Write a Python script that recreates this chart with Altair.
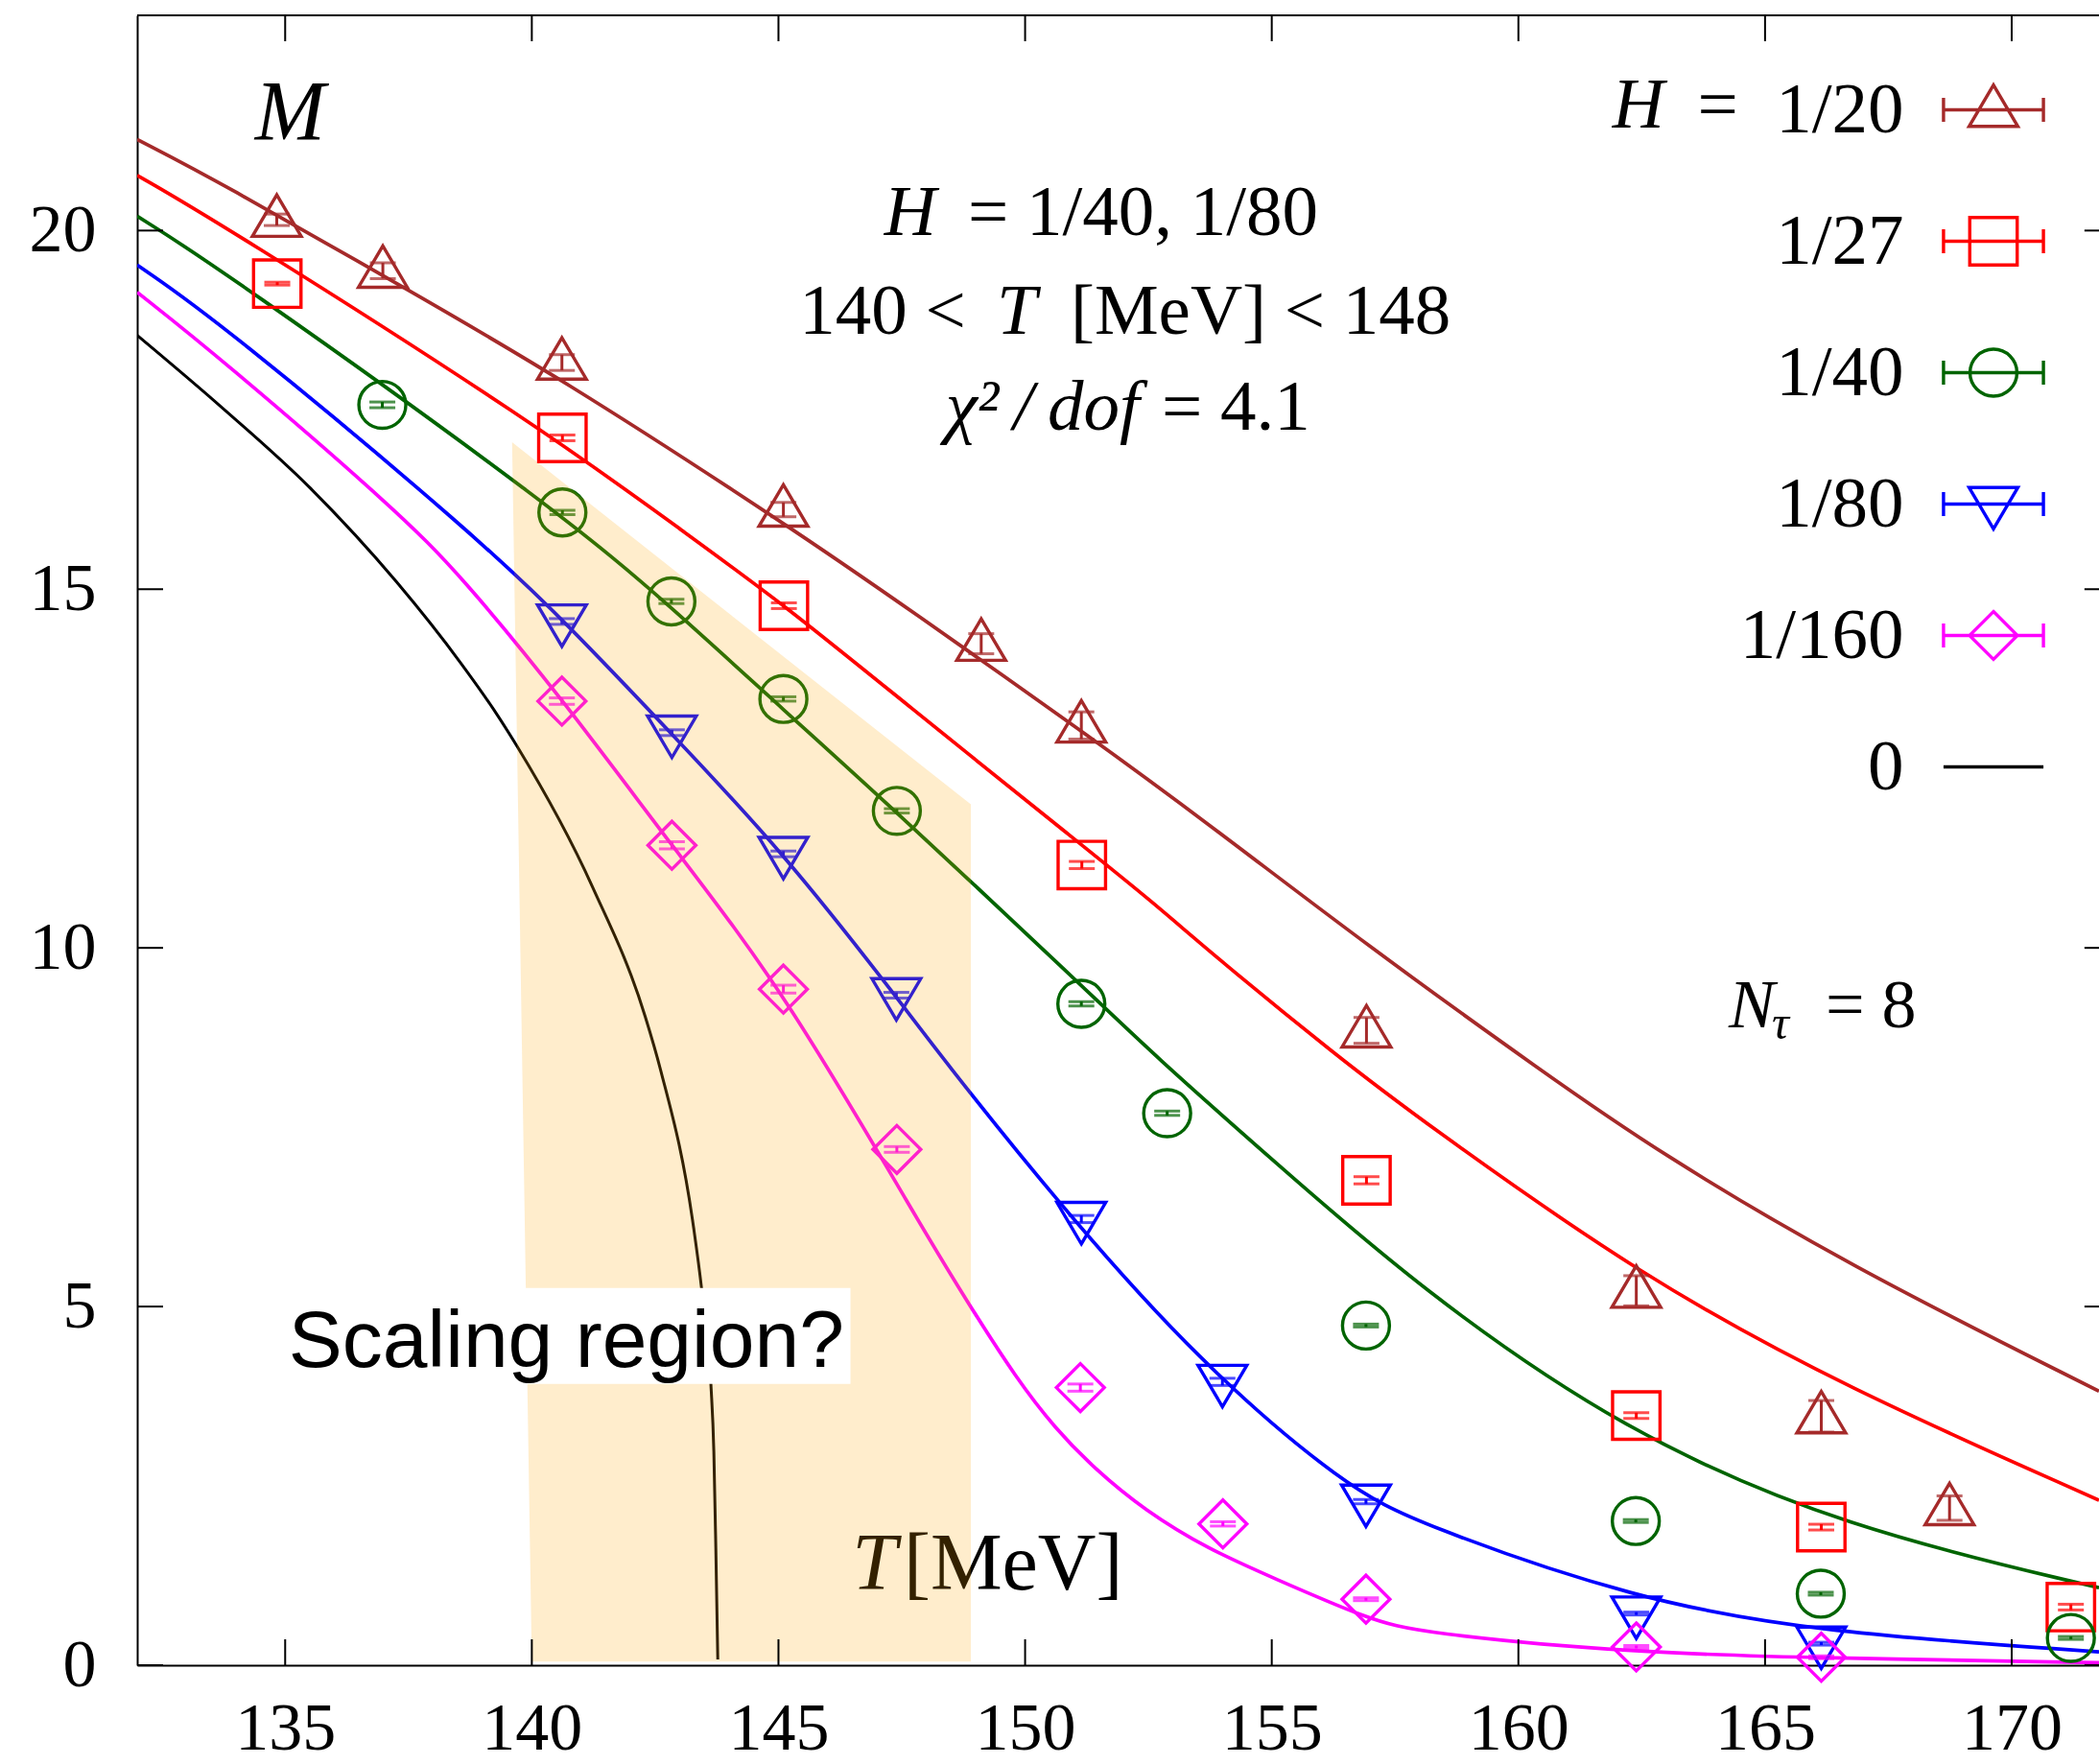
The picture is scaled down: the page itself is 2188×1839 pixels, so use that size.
import altair as alt
import pandas as pd

# ---------------------------------------------------------------------------
# Series: symmetry-breaking field H, colours
# ---------------------------------------------------------------------------
SERIES = ["1/20", "1/27", "1/40", "1/80", "1/160", "0"]
COLORS = ["#a52a2a", "#ff0000", "#006400", "#0000ff", "#ff00ff", "#000000"]

# Lattice data: temperature T [MeV], order parameter M, statistical error
T_20 = [134.83, 136.98, 140.61, 145.10, 149.11, 151.14, 156.92, 162.39, 166.14, 168.74]
M_20 = [20.15, 19.44, 18.16, 16.11, 14.24, 13.10, 8.85, 5.22, 3.47, 2.19]
E_20 = [0.08, 0.11, 0.11, 0.10, 0.14, 0.19, 0.18, 0.21, 0.22, 0.17]

T_27 = [134.84, 140.62, 145.11, 151.15, 156.92, 162.39, 166.14, 171.20]
M_27 = [19.26, 17.11, 14.77, 11.155, 6.76, 3.48, 1.925, 0.81]
E_27 = [0.02, 0.04, 0.04, 0.05, 0.05, 0.04, 0.04, 0.04]

T_40 = [136.97, 140.62, 142.83, 145.10, 147.40, 151.14, 152.88, 156.91, 162.38, 166.13, 171.20]
M_40 = [17.57, 16.07, 14.83, 13.47, 11.91, 9.22, 7.695, 4.735, 2.01, 0.997, 0.38]
E_40 = [0.04, 0.03, 0.03, 0.03, 0.03, 0.03, 0.03, 0.02, 0.02, 0.02, 0.02]

T_80 = [140.61, 142.84, 145.10, 147.39, 151.14, 154.00, 156.91, 162.39, 166.14]
M_80 = [14.55, 13.00, 11.31, 9.34, 6.22, 3.95, 2.28, 0.72, 0.30]
E_80 = [0.04, 0.04, 0.04, 0.04, 0.05, 0.05, 0.03, 0.02, 0.02]

T_160 = [140.61, 142.84, 145.10, 147.40, 151.12, 154.01, 156.91, 162.39, 166.14]
M_160 = [13.44, 11.43, 9.425, 7.19, 3.87, 1.97, 0.92, 0.254, 0.111]
E_160 = [0.045, 0.05, 0.055, 0.04, 0.05, 0.03, 0.02, 0.02, 0.02]

# Scaling fit curves (sampled)
FIT_T_20 = [132.0, 133.69, 137.44, 140.48, 145.30, 147.69, 151.14, 153.68, 156.92, 160.56, 162.80,
            166.64, 171.77]
FIT_M_20 = [21.27, 20.67, 19.19, 17.99, 15.84, 14.70, 13.03, 11.75, 10.04, 8.24, 7.17,
            5.59, 3.82]

FIT_T_27 = [132.0, 133.69, 140.12, 143.24, 145.10, 147.48, 151.19, 152.55, 153.92, 156.31, 158.00,
            162.53, 166.63, 171.77]
FIT_M_27 = [20.77, 20.10, 17.29, 15.72, 14.79, 13.46, 11.41, 10.66, 9.84, 8.50, 7.61,
            5.40, 3.87, 2.30]

FIT_T_40 = [132.0, 133.69, 140.61, 142.83, 145.10, 147.39, 151.14, 152.62, 155.02, 158.00, 162.13,
            166.64, 171.77]
FIT_M_40 = [20.20, 19.47, 16.06, 14.75, 13.32, 11.90, 9.48, 8.50, 7.04, 5.25, 3.25,
            1.91, 1.08]

FIT_T_80 = [132.0, 133.69, 138.91, 140.74, 142.84, 145.10, 147.39, 148.28, 150.67, 153.53, 156.51,
            158.00, 162.39, 166.14, 171.77]
FIT_M_80 = [19.52, 18.72, 15.72, 14.50, 12.98, 11.33, 9.32, 8.50, 6.44, 4.22, 2.48,
            1.97, 0.91, 0.457, 0.186]

FIT_T_160 = [132.0, 133.69, 137.26, 138.55, 140.61, 142.84, 145.10, 147.89, 148.86, 149.83, 150.61,
             151.39, 152.42, 153.72, 155.02, 156.96, 158.00, 162.39, 166.14, 171.77]
FIT_M_160 = [19.14, 18.22, 16.10, 15.20, 13.48, 11.42, 9.42, 6.12, 5.03, 3.99, 3.30,
             2.75, 2.16, 1.615, 1.22, 0.64, 0.45, 0.17, 0.10, 0.035]

FIT_T_0 = [132.0, 133.69, 135.48, 137.26, 138.55, 139.23, 139.71, 141.23, 142.30, 142.61, 143.28,
           143.44, 143.63, 143.69, 143.73, 143.77]
FIT_M_0 = [18.54, 17.55, 16.43, 15.10, 13.98, 13.32, 12.80, 10.85, 9.04, 8.30, 6.10,
           5.26, 3.92, 2.98, 1.64, 0.08]

# Shaded "scaling region" polygon (horizontal band: M, left T, right T)
SHADE_M = [0.05, 12.0, 17.05]
SHADE_T_LEFT = [140.0, 139.72, 139.6]
SHADE_T_RIGHT = [148.9, 148.9, 139.6]

# Axes
X_DOMAIN = [132.0, 171.77]
Y_DOMAIN = [0.0, 23.0]
X_TICKS = [135, 140, 145, 150, 155, 160, 165, 170]
Y_TICKS = [0, 5, 10, 15, 20]
X_FRAME_END = 172.0

PLOT_W, PLOT_H = 2045, 1720
TICK_PX = 27
SERIF = "Liberation Serif"
SANS = "Liberation Sans"
LINE_W = [3.7, 3.7, 3.7, 3.7, 3.7, 3.0]

# Marker outlines (unit = sqrt(size)/2 pixels)
MARKER_SIZE = 2304
TRI_UP = "M0,-1.08L1.06,0.72L-1.06,0.72Z"
SQUARE = "M-1.03,-1.03L1.03,-1.03L1.03,1.03L-1.03,1.03Z"
CIRCLE = "M-1.02,0A1.02,1.02,0,1,1,1.02,0A1.02,1.02,0,1,1,-1.02,0Z"
TRI_DOWN = "M0,1.08L1.06,-0.72L-1.06,-0.72Z"
DIAMOND = "M0,-1.04L1.04,0L0,1.04L-1.04,0Z"
BAR = "M-2.17,0L2.17,0M-2.17,-0.52L-2.17,0.52M2.17,-0.52L2.17,0.52"
MARKERS = [TRI_UP, SQUARE, CIRCLE, TRI_DOWN, DIAMOND]
LEGEND_SHAPES = [m + BAR for m in MARKERS] + ["M-2.17,0L2.17,0"]

# ---------------------------------------------------------------------------
# Tables
# ---------------------------------------------------------------------------
point_sets = [(T_20, M_20, E_20), (T_27, M_27, E_27), (T_40, M_40, E_40),
              (T_80, M_80, E_80), (T_160, M_160, E_160)]
fit_sets = [(FIT_T_20, FIT_M_20), (FIT_T_27, FIT_M_27), (FIT_T_40, FIT_M_40),
            (FIT_T_80, FIT_M_80), (FIT_T_160, FIT_M_160), (FIT_T_0, FIT_M_0)]

shade = pd.DataFrame({"M": SHADE_M, "T": SHADE_T_LEFT, "T2": SHADE_T_RIGHT})

# inward tick marks (gnuplot style), lengths converted to data units
tx = TICK_PX * (X_DOMAIN[1] - X_DOMAIN[0]) / PLOT_W
ty = TICK_PX * (Y_DOMAIN[1] - Y_DOMAIN[0]) / PLOT_H
xticks = pd.DataFrame({
    "T": X_TICKS * 2,
    "M": [Y_DOMAIN[0]] * len(X_TICKS) + [Y_DOMAIN[1] - ty] * len(X_TICKS),
    "M2": [Y_DOMAIN[0] + ty] * len(X_TICKS) + [Y_DOMAIN[1]] * len(X_TICKS),
})
yticks = pd.DataFrame({
    "M": Y_TICKS * 2,
    "T": [X_DOMAIN[0]] * len(Y_TICKS) + [X_FRAME_END - tx] * len(Y_TICKS),
    "T2": [X_DOMAIN[0] + tx] * len(Y_TICKS) + [X_DOMAIN[1]] * len(Y_TICKS),
})
frame_top = pd.DataFrame({"T": [X_DOMAIN[0]], "T2": [X_DOMAIN[1]], "M": [Y_DOMAIN[1]]})

# ---------------------------------------------------------------------------
# Shared encodings
# ---------------------------------------------------------------------------
xs = alt.Scale(domain=X_DOMAIN, nice=False, zero=False)
ys = alt.Scale(domain=Y_DOMAIN, nice=False, zero=False)
x_axis = alt.Axis(values=X_TICKS, title=None, grid=False, ticks=False, tickSize=0,
                  labelFont=SERIF, labelFontSize=70, labelColor="black", labelPadding=32,
                  labelFlush=False, labelOverlap=False, domainColor="black", domainWidth=2)
y_axis = alt.Axis(values=Y_TICKS, title=None, grid=False, ticks=False, tickSize=0,
                  labelFont=SERIF, labelFontSize=70, labelColor="black", labelPadding=43,
                  labelFlush=False, labelOverlap=False, domainColor="black", domainWidth=2)


def X(field="T"):
    return alt.X(f"{field}:Q", scale=xs, axis=x_axis)


def Y(field="M"):
    return alt.Y(f"{field}:Q", scale=ys, axis=y_axis)


def text(T, M, s, size=72, italic=False, align="center", dx=0, dy=0, font=SERIF):
    df = pd.DataFrame({"T": [T], "M": [M], "txt": [s]})
    return alt.Chart(df).mark_text(
        align=align, baseline="alphabetic", dx=dx, dy=dy, font=font, fontSize=size,
        fontStyle="italic" if italic else "normal", color="black",
    ).encode(x=X(), y=Y(), text="txt:N")


# ---------------------------------------------------------------------------
# Layers
# ---------------------------------------------------------------------------
curve_layers = []
for s, col, lw, (t, m) in zip(SERIES, COLORS, LINE_W, fit_sets):
    df = pd.DataFrame({"T": t, "M": m})
    interp = "monotone" if s == "0" else "basis"
    curve_layers.append(
        alt.Chart(df).mark_line(color=col, strokeWidth=lw, interpolate=interp, clip=True)
        .encode(x=X(), y=Y())
    )

point_layers = []
for s, col, shape, (t, m, e) in zip(SERIES, COLORS, MARKERS, point_sets):
    base = alt.Chart(pd.DataFrame({"T": t, "M": m, "E": e})).transform_calculate(
        lo="datum.M - datum.E", hi="datum.M + datum.E")
    point_layers += [
        base.mark_rule(color=col, strokeWidth=3).encode(x=X(), y=Y("lo"), y2="hi:Q"),
        base.mark_tick(color=col, orient="horizontal", size=27, thickness=3).encode(x=X(), y=Y("lo")),
        base.mark_tick(color=col, orient="horizontal", size=27, thickness=3).encode(x=X(), y=Y("hi")),
        base.mark_point(shape=shape, size=MARKER_SIZE, filled=False, color=col,
                        strokeWidth=3.4, opacity=1).encode(x=X(), y=Y()),
    ]

axis_label = [
    text(147.459, 1.060, "T", size=84, italic=True, align="right", dx=-3),
    text(147.459, 1.060, "[MeV]", size=84, align="left", dx=4),
]

shade_area = alt.Chart(shade).mark_area(orient="horizontal", color="#ffa500", opacity=0.2).encode(
    y=Y(), x=X(), x2="T2:Q"
)

box = alt.Chart(pd.DataFrame({"T": [134.93], "T2": [146.46], "M": [3.92], "M2": [5.26]})).mark_rect(
    color="white").encode(x=X(), x2="T2:Q", y=Y(), y2="M2:Q")
scaling_text = text(140.70, 4.158, "Scaling region?", size=84, font=SANS)

annotations = [
    text(135.10, 21.27, "M", size=88, italic=True),
    # fit description
    text(148.567, 19.939, "H", size=75, italic=True, align="right", dx=-19),
    text(148.567, 19.939, "= 1/40, 1/80", size=75, align="left", dx=14),
    text(149.832, 18.561, "140 <", size=75, align="right", dx=-53),
    text(149.832, 18.561, "T", size=75, italic=True, align="center"),
    text(149.832, 18.561, "[MeV] < 148", size=75, align="left", dx=56),
    text(152.554, 17.224, "χ²\u2009/\u2009dof", size=75, italic=True, align="right", dx=-12),
    text(152.554, 17.224, "= 4.1", size=75, align="left", dx=11),
    # lattice size
    text(165.195, 8.897, "N", italic=True, align="right"),
    text(165.195, 8.897, "τ", size=50, italic=True, align="left", dx=-3, dy=12),
    text(165.195, 8.897, "= 8", align="left", dx=53),
    # legend heading
    text(164.456, 21.436, "=", size=75, align="right"),
    text(164.456, 21.436, "H", size=75, italic=True, align="right", dx=-77),
]

tick_x = alt.Chart(xticks).mark_rule(color="black", strokeWidth=2).encode(x=X(), y=Y(), y2="M2:Q")
tick_y = alt.Chart(yticks).mark_rule(color="black", strokeWidth=2).encode(x=X(), x2="T2:Q", y=Y())
top_line = alt.Chart(frame_top).mark_rule(color="black", strokeWidth=2).encode(x=X(), x2="T2:Q", y=Y())

# key: labels sit to the left of their symbols, symbols come from the scale ranges
legend = alt.Legend(
    title=None, orient="none", legendX=1897.5, legendY=61, direction="vertical",
    labelFont=SERIF, labelFontSize=75, labelColor="black", labelAlign="right",
    labelOffset={"expr": "-131"}, labelLimit=0, symbolSize=MARKER_SIZE, symbolStrokeWidth=3.4,
    rowPadding=61, padding=0, offset=0,
)
key = alt.Chart(pd.DataFrame({"series": SERIES, "T": [None] * 6, "M": [None] * 6})).mark_point(
    filled=False, strokeWidth=3.4, size=MARKER_SIZE, opacity=1
).encode(
    x=X(), y=Y(),
    color=alt.Color("series:N", scale=alt.Scale(domain=SERIES, range=COLORS), legend=legend),
    shape=alt.Shape("series:N", scale=alt.Scale(domain=SERIES, range=LEGEND_SHAPES), legend=legend),
)

chart = alt.layer(
    key, *curve_layers, *point_layers, *axis_label, shade_area, box, scaling_text,
    *annotations, tick_x, tick_y, top_line,
).properties(
    width=PLOT_W, height=PLOT_H,
    autosize=alt.AutoSizeParams(type="none"),
    padding={"left": 143, "top": 16, "right": 0, "bottom": 103},
).configure_view(stroke=None)

chart.save("out.html", embed_options={"renderer": "svg", "actions": False})
